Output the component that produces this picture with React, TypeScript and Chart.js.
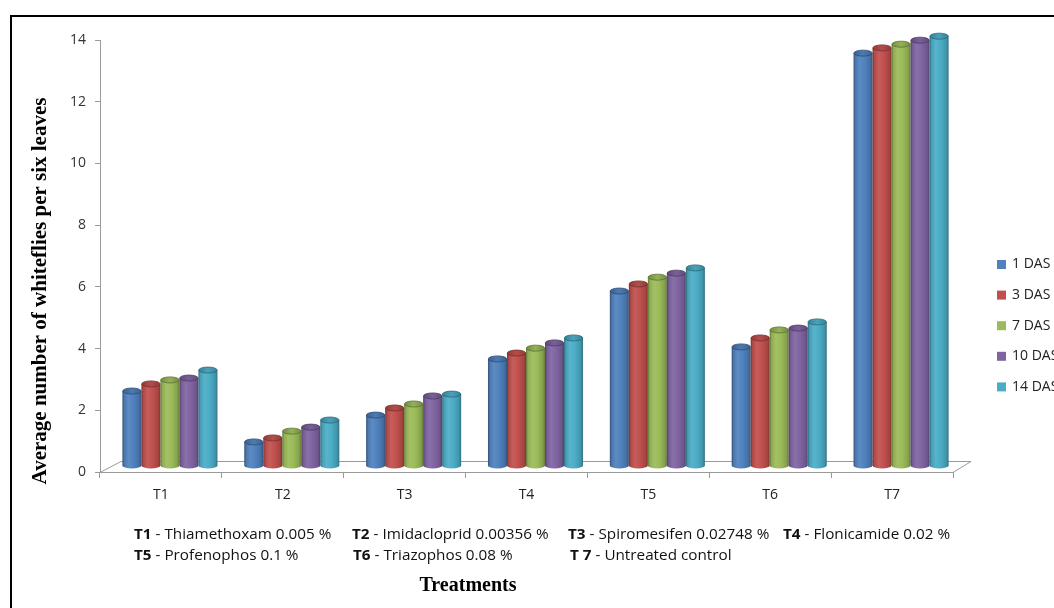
import React, { useEffect, useRef } from 'react';
import { Chart, registerables } from 'chart.js';

Chart.register(...registerables);

// ---------- data ----------
const categories = ['T1', 'T2', 'T3', 'T4', 'T5', 'T6', 'T7'];
const seriesLabels = ['1 DAS', '3 DAS', '7 DAS', '10 DAS', '14 DAS'];
const seriesColors = ['#4F81BD', '#C0504D', '#9BBB59', '#8064A2', '#4BACC6'];
const das1 = [2.43, 0.78, 1.65, 3.47, 5.67, 3.86, 13.38];
const das3 = [2.66, 0.91, 1.88, 3.66, 5.9, 4.15, 13.55];
const das7 = [2.79, 1.13, 2.01, 3.82, 6.12, 4.41, 13.67];
const das10 = [2.85, 1.26, 2.27, 3.99, 6.25, 4.47, 13.8];
const das14 = [3.11, 1.49, 2.33, 4.15, 6.42, 4.67, 13.93];
const seriesValues = [das1, das3, das7, das10, das14];
const yMin = 0;
const yMax = 14;
const yStep = 2;
const yTitle = 'Average number of whiteflies per six leaves';
const xTitle = 'Treatments';
const footBold = ['T1', 'T2', 'T3', 'T4', 'T5', 'T6', 'T 7'];
const footText = [
  ' - Thiamethoxam 0.005 %',
  ' - Imidacloprid 0.00356 %',
  ' - Spiromesifen 0.02748 %',
  ' - Flonicamide 0.02 %',
  ' - Profenophos 0.1 %',
  ' - Triazophos 0.08 %',
  ' - Untreated control',
];

// ---------- layout (not data) ----------
const W = 1054;
const H = 608;
const footPos = [
  [134, 535],
  [352, 535],
  [568, 535],
  [783, 535],
  [134, 556],
  [353, 556],
  [570, 556],
];
const FOOT_REF_INDEX = 3;
const FOOT_REF_END = 950;
const DEPTH_X = 9;
const DEPTH_Y = -6;
const FONT = '"Open Sans", "Noto Sans", sans-serif';

function shade(hex: string, amt: number): string {
  const n = parseInt(hex.slice(1), 16);
  let r = (n >> 16) & 255, g = (n >> 8) & 255, b = n & 255;
  const f = (c: number) => (amt >= 0 ? c + (255 - c) * amt : c * (1 + amt));
  r = Math.round(f(r)); g = Math.round(f(g)); b = Math.round(f(b));
  return `rgb(${r},${g},${b})`;
}

function drawCylinder(ctx: CanvasRenderingContext2D, cx: number, top: number, bottom: number, w: number, color: string) {
  const rx = w / 2;
  const ry = 3;
  const left = cx - rx;
  const g = ctx.createLinearGradient(left, 0, left + w, 0);
  g.addColorStop(0, shade(color, -0.38));
  g.addColorStop(0.1, shade(color, -0.08));
  g.addColorStop(0.32, shade(color, 0.08));
  g.addColorStop(0.6, shade(color, 0));
  g.addColorStop(0.88, shade(color, -0.14));
  g.addColorStop(1, shade(color, -0.35));
  ctx.beginPath();
  ctx.moveTo(left, top);
  ctx.lineTo(left, bottom);
  ctx.ellipse(cx, bottom, rx, ry, 0, Math.PI, 0, true);
  ctx.lineTo(left + w, top);
  ctx.closePath();
  ctx.fillStyle = g;
  ctx.fill();
  const gc = ctx.createLinearGradient(left, 0, left + w, 0);
  gc.addColorStop(0, shade(color, -0.25));
  gc.addColorStop(0.5, shade(color, -0.05));
  gc.addColorStop(1, shade(color, -0.25));
  ctx.beginPath();
  ctx.ellipse(cx, top, rx - 0.3, ry, 0, 0, Math.PI * 2);
  ctx.fillStyle = gc;
  ctx.fill();
  ctx.lineWidth = 0.8;
  ctx.strokeStyle = shade(color, -0.4);
  ctx.stroke();
}

const cylinderPlugin = {
  id: 'cylinders3d',
  beforeDatasetsDraw(chart: any) {
    const { ctx, chartArea } = chart;
    const { left, right, bottom } = chartArea;
    ctx.save();
    ctx.strokeStyle = '#9a9a9a';
    ctx.lineWidth = 1;
    ctx.beginPath();
    ctx.moveTo(left, bottom + 0.5);
    ctx.lineTo(left + 21, bottom - 10.5);
    ctx.lineTo(right + 18, bottom - 10.5);
    ctx.lineTo(right, bottom + 0.5);
    ctx.stroke();
    ctx.restore();
  },
  afterDatasetsDraw(chart: any) {
    const { ctx } = chart;
    ctx.save();
    for (let i = 0; i < categories.length; i++) {
      for (let d = 0; d < chart.data.datasets.length; d++) {
        const el = chart.getDatasetMeta(d).data[i];
        if (!el) continue;
        const p = el.getProps(['x', 'y', 'base', 'width'], true);
        drawCylinder(ctx, p.x + DEPTH_X, p.y + DEPTH_Y, p.base + DEPTH_Y, p.width, seriesColors[d]);
      }
    }
    ctx.restore();
  },
  afterDraw(chart: any) {
    const { ctx } = chart;
    ctx.save();
    // frame
    ctx.fillStyle = '#000';
    ctx.fillRect(10, 15, 2, H);
    ctx.fillRect(10, 15, W, 2);
    // legend
    ctx.textBaseline = 'middle';
    ctx.textAlign = 'left';
    ctx.font = `14px ${FONT}`;
    for (let i = 0; i < seriesLabels.length; i++) {
      const y = 260 + i * 30.6;
      ctx.fillStyle = seriesColors[i];
      ctx.fillRect(997, y, 9, 9);
      ctx.fillStyle = '#222';
      ctx.fillText(seriesLabels[i], 1012, y + 4.5);
    }
    // footnotes with a common horizontal condensing factor
    const widths = footBold.map((b, i) => {
      ctx.font = `bold 14px ${FONT}`;
      const wb = ctx.measureText(b).width;
      ctx.font = `14px ${FONT}`;
      const wt = ctx.measureText(footText[i]).width;
      return [wb, wt];
    });
    const ref = widths[FOOT_REF_INDEX];
    const s = (FOOT_REF_END - footPos[FOOT_REF_INDEX][0]) / (ref[0] + ref[1]);
    for (let i = 0; i < footBold.length; i++) {
      const [x0, y] = footPos[i];
      ctx.save();
      ctx.translate(x0, y);
      ctx.scale(s, 1);
      ctx.fillStyle = '#111';
      ctx.font = `bold 14px ${FONT}`;
      ctx.fillText(footBold[i], 0, 0);
      ctx.font = `14px ${FONT}`;
      ctx.fillText(footText[i], widths[i][0], 0);
      ctx.restore();
    }
    // x title
    ctx.fillStyle = '#000';
    ctx.textAlign = 'center';
    ctx.font = 'bold 20px "Liberation Serif", "Times New Roman", serif';
    ctx.fillText(xTitle, 468, 586);
    // y title
    ctx.save();
    ctx.translate(41, 291);
    ctx.rotate(-Math.PI / 2);
    ctx.font = 'bold 21px "Liberation Serif", "Times New Roman", serif';
    ctx.fillText(yTitle, 0, 0);
    ctx.restore();
    ctx.restore();
  },
};

export default function App() {
  const ref = useRef<HTMLCanvasElement | null>(null);
  useEffect(() => {
    if (!ref.current) return;
    const chart = new Chart(ref.current, {
      type: 'bar',
      data: {
        labels: categories,
        datasets: seriesValues.map((vals, i) => ({
          label: seriesLabels[i],
          data: vals,
          backgroundColor: 'rgba(0,0,0,0)',
          borderWidth: 0,
          categoryPercentage: 0.78,
          barPercentage: 1,
        })),
      },
      options: {
        animation: false,
        responsive: false,
        events: [],
        layout: { padding: { top: 40, right: 101, bottom: 0, left: 0 } },
        plugins: {
          legend: { display: false },
          tooltip: { enabled: false },
          title: { display: false },
        },
        scales: {
          x: {
            grid: { display: true, drawOnChartArea: false, drawTicks: true, tickLength: 6, color: '#9a9a9a', offset: true },
            border: { display: true, color: '#9a9a9a' },
            ticks: { color: '#222', font: { family: FONT, size: 14 }, padding: 9 },
            afterFit: (s: any) => { s.height = H - 472; },
          },
          y: {
            min: yMin,
            max: yMax,
            grid: { display: true, drawOnChartArea: false, drawTicks: true, tickLength: 5, color: '#9a9a9a' },
            border: { display: true, color: '#9a9a9a' },
            ticks: { stepSize: yStep, color: '#333', font: { family: FONT, size: 14 }, padding: 9 },
            afterFit: (s: any) => { s.width = 100; },
          },
        },
      },
      plugins: [cylinderPlugin],
    });
    return () => chart.destroy();
  }, []);
  return (
    <div style={{ position: 'absolute', left: 0, top: 0, width: W, height: H, background: '#fff' }}>
      <canvas ref={ref} width={W} height={H} style={{ display: 'block', width: W, height: H }} />
    </div>
  );
}
